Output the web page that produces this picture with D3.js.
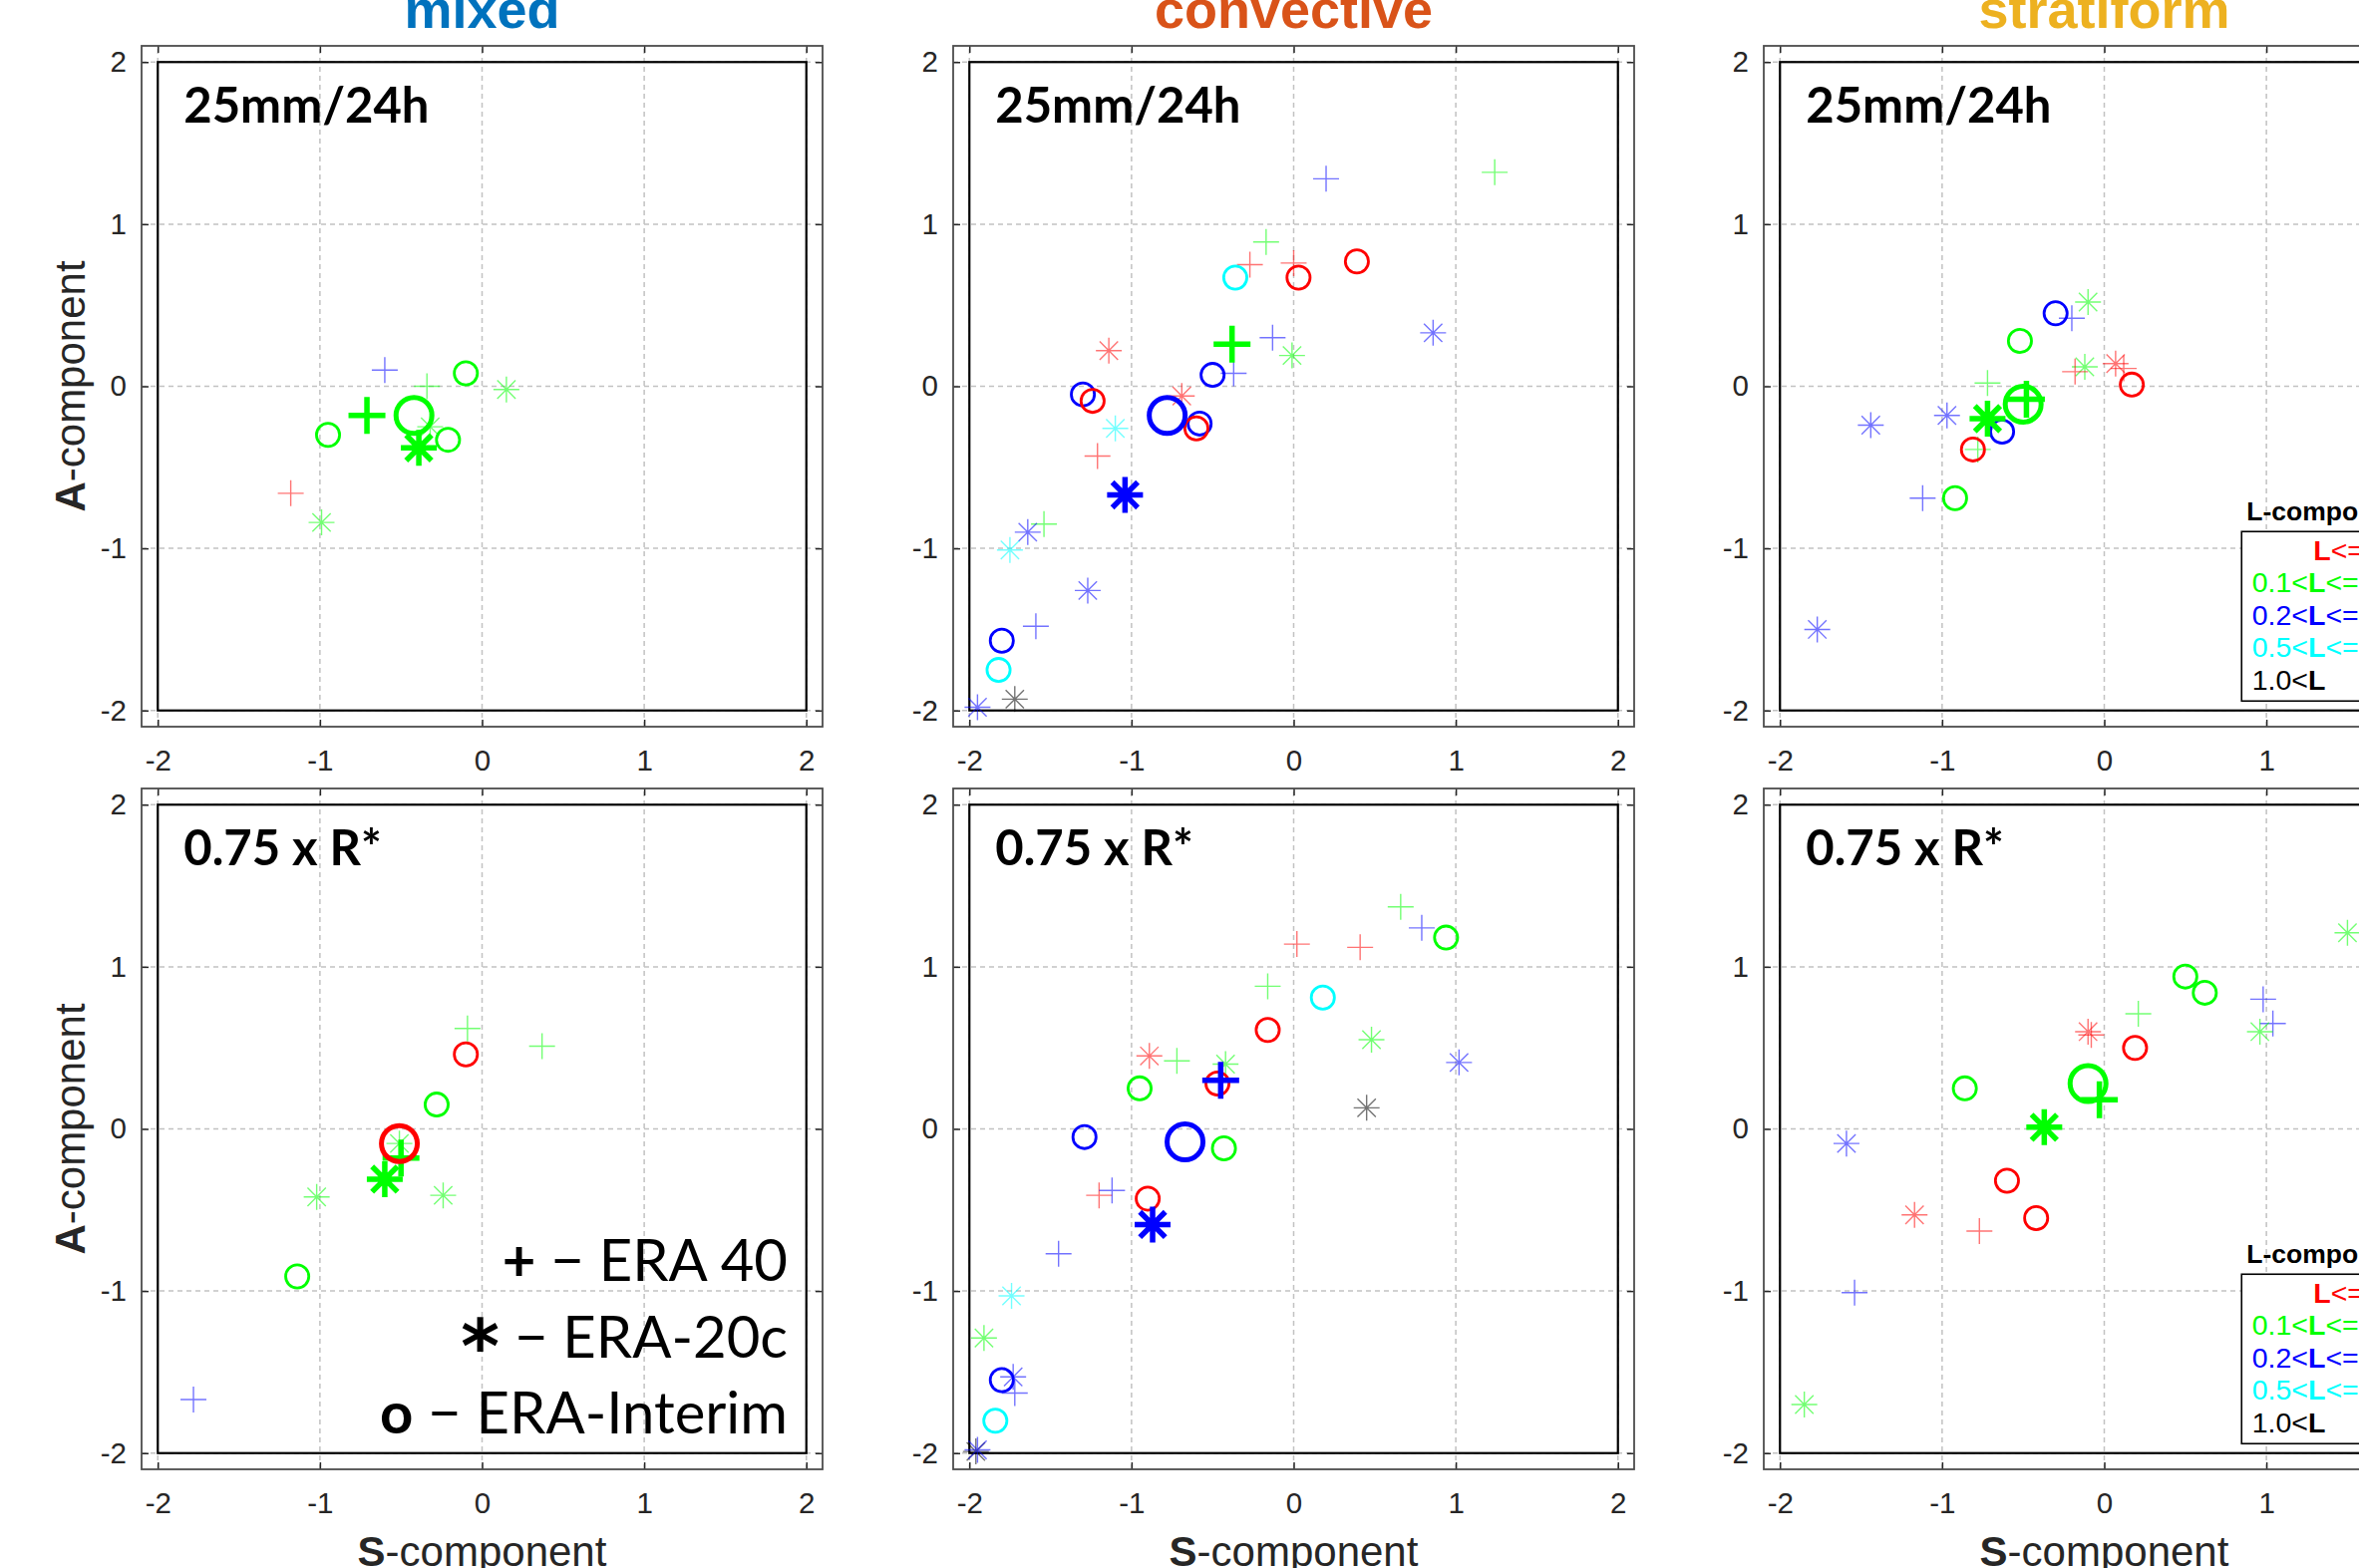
<!DOCTYPE html>
<html>
<head>
<meta charset="utf-8">
<script src="https://cdn.jsdelivr.net/npm/d3@7"></script>
<style>
    body { margin: 0; background: #fff; }
    svg { display: block; }
</style>
</head>
<body>
<div id="chart"></div>
<script>
// Panel titles and rows
const regimes = ["mixed", "convective", "stratiform"];
const regimeColors = ["#0072BD", "#D95319", "#EDB120"];
const thresholds = ["25mm/24h", "0.75 x R*"];
const ticks = [-2, -1, 0, 1, 2];

// L-component classes (index used in the point arrays)
const lColors = ["#FF0000", "#00FF00", "#0000FF", "#00FFFF", "#000000"];
const lLabels = [["", "L", "<=0.1"], ["0.1<", "L", "<=0.2"], ["0.2<", "L", "<=0.5"], ["0.5<", "L", "<=1.0"], ["1.0<", "L", ""]];

// Reanalysis symbols
const datasetMarks = ["+", "*", "o"];
const datasetNames = ["ERA 40", "ERA-20c", "ERA-Interim"];

// Points: [S, A, marker, L-class]
const mixed25 = [
    [-0.60, 0.10, "+", 2], [-0.34, 0.00, "+", 1], [0.15, -0.02, "*", 1],
    [-0.32, -0.25, "*", 1], [-1.18, -0.66, "+", 0], [-0.99, -0.84, "*", 1],
    [-0.10, 0.08, "o", 1], [-0.95, -0.30, "o", 1], [-0.21, -0.33, "o", 1]
];
const mixed25Mean = [[-0.71, -0.18, "+", 1], [-0.42, -0.18, "o", 1], [-0.39, -0.38, "*", 1]];

const conv25 = [
    [0.20, 1.28, "+", 2], [1.24, 1.32, "+", 1], [-0.17, 0.89, "+", 1], [-0.27, 0.75, "+", 0],
    [0.00, 0.76, "+", 0], [-0.13, 0.30, "+", 2], [-0.01, 0.19, "*", 1], [0.86, 0.33, "*", 2],
    [-1.14, 0.22, "*", 0], [-0.37, 0.08, "+", 2], [-0.69, -0.06, "*", 0], [-1.10, -0.26, "*", 3],
    [-1.21, -0.43, "+", 0], [-1.54, -0.85, "+", 1], [-1.64, -0.90, "*", 2], [-1.75, -1.01, "*", 3],
    [-1.27, -1.26, "*", 2], [-1.59, -1.48, "+", 2], [-1.72, -1.93, "*", 4], [-1.95, -1.98, "*", 2],
    [-0.36, 0.67, "o", 3], [0.03, 0.67, "o", 0], [0.39, 0.77, "o", 0], [-0.50, 0.07, "o", 2],
    [-1.30, -0.05, "o", 2], [-1.24, -0.09, "o", 0], [-0.58, -0.23, "o", 2], [-0.60, -0.26, "o", 0],
    [-1.80, -1.57, "o", 2], [-1.82, -1.75, "o", 3]
];
const conv25Mean = [[-0.38, 0.26, "+", 1], [-0.78, -0.18, "o", 2], [-1.04, -0.67, "*", 2]];

const strat25 = [
    [-0.10, 0.52, "*", 1], [-0.20, 0.42, "+", 2], [-0.12, 0.12, "*", 1], [-0.18, 0.09, "+", 0],
    [0.07, 0.14, "*", 0], [0.12, 0.11, "+", 0], [-0.72, 0.02, "+", 1], [-0.97, -0.18, "*", 2],
    [-1.44, -0.24, "*", 2], [-1.12, -0.69, "+", 2], [-1.77, -1.50, "*", 2],
    [-0.30, 0.45, "o", 2], [-0.52, 0.28, "o", 1], [0.17, 0.01, "o", 0], [-0.63, -0.28, "o", 2],
    [-0.81, -0.39, "o", 0], [-0.92, -0.69, "o", 1], [-0.78, -0.39, "+", 1]
];
const strat25Mean = [[-0.50, -0.11, "o", 1], [-0.48, -0.08, "+", 1], [-0.72, -0.20, "*", 1]];

const mixedR = [
    [-0.09, 0.62, "+", 1], [0.37, 0.51, "+", 1], [-0.51, -0.09, "*", 1], [-1.02, -0.42, "*", 1],
    [-0.24, -0.41, "*", 1], [-1.78, -1.67, "+", 2],
    [-0.10, 0.46, "o", 0], [-0.28, 0.15, "o", 1], [-1.14, -0.91, "o", 1]
];
const mixedRMean = [[-0.51, -0.09, "o", 0], [-0.50, -0.18, "+", 1], [-0.60, -0.31, "*", 1]];

const convR = [
    [0.66, 1.37, "+", 1], [0.79, 1.24, "+", 2], [0.02, 1.14, "+", 0], [0.41, 1.12, "+", 0],
    [-0.16, 0.88, "+", 1], [0.48, 0.55, "*", 1], [-0.89, 0.45, "*", 0], [-0.72, 0.42, "+", 1],
    [-0.42, 0.40, "*", 1], [1.02, 0.41, "*", 2], [0.45, 0.13, "*", 4], [-1.20, -0.41, "+", 0],
    [-1.12, -0.38, "+", 2], [-1.45, -0.77, "+", 2], [-1.74, -1.03, "*", 3], [-1.91, -1.29, "*", 1],
    [-1.73, -1.53, "*", 2], [-1.72, -1.63, "+", 2], [-1.96, -1.99, "*", 4], [-1.95, -1.98, "*", 2],
    [0.94, 1.18, "o", 1], [0.18, 0.81, "o", 3], [-0.16, 0.61, "o", 0], [-0.47, 0.28, "o", 0],
    [-0.95, 0.25, "o", 1], [-1.29, -0.05, "o", 2], [-0.43, -0.12, "o", 1], [-0.90, -0.43, "o", 0],
    [-1.80, -1.55, "o", 2], [-1.84, -1.80, "o", 3]
];
const convRMean = [[-0.67, -0.08, "o", 2], [-0.45, 0.30, "+", 2], [-0.87, -0.59, "*", 2]];

const stratR = [
    [1.50, 1.21, "*", 1], [0.98, 0.80, "+", 2], [0.21, 0.71, "+", 1], [1.04, 0.65, "+", 2],
    [0.96, 0.60, "*", 1], [-0.10, 0.60, "*", 0], [-0.08, 0.58, "+", 0], [-1.59, -0.09, "*", 2],
    [-1.17, -0.53, "*", 0], [-0.77, -0.63, "+", 0], [-1.54, -1.01, "+", 2], [-1.85, -1.70, "*", 1],
    [0.50, 0.94, "o", 1], [0.62, 0.84, "o", 1], [0.19, 0.50, "o", 0], [-0.86, 0.25, "o", 1],
    [-0.60, -0.32, "o", 0], [-0.42, -0.55, "o", 0]
];
const stratRMean = [[-0.10, 0.28, "o", 1], [-0.03, 0.18, "+", 1], [-0.37, 0.01, "*", 1]];

const panels = [
    { row: 0, col: 0, pts: mixed25, mean: mixed25Mean },
    { row: 0, col: 1, pts: conv25, mean: conv25Mean },
    { row: 0, col: 2, pts: strat25, mean: strat25Mean },
    { row: 1, col: 0, pts: mixedR, mean: mixedRMean },
    { row: 1, col: 1, pts: convR, mean: convRMean },
    { row: 1, col: 2, pts: stratR, mean: stratRMean }
];

// Layout
const width = 2366, height = 1573;
const colLeft = [142, 956, 1769];
const rowTop = [46, 791];
const boxSize = 683;
const sansFont = '"Liberation Sans", Arial, sans-serif';
const labelFont = 'Lato, Carlito, Calibri, sans-serif';

const svg = d3.select("#chart").append("svg")
    .attr("width", width)
    .attr("height", height);

// Path for + and * markers
function markerPath(type, cx, cy, r) {
    let d = `M${cx - r},${cy}h${2 * r}M${cx},${cy - r}v${2 * r}`;
    if (type === "*") {
        const k = r * Math.SQRT1_2;
        d += `M${cx - k},${cy - k}l${2 * k},${2 * k}M${cx - k},${cy + k}l${2 * k},${-2 * k}`;
    }
    return d;
}

function drawMarkers(g, data, x, y, big) {
    const lines = data.filter(d => d[2] !== "o");
    const rings = data.filter(d => d[2] === "o");
    const r = big ? 18.5 : 13;
    g.selectAll(null).data(lines).join("path")
        .attr("d", d => markerPath(d[2], x(d[0]), y(d[1]), d[2] === "*" && big ? 18 : r))
        .attr("fill", "none")
        .attr("stroke", d => lColors[d[3]])
        .attr("stroke-width", big ? 5.5 : 1.4)
        .attr("opacity", big ? 1 : 0.55);
    g.selectAll(null).data(rings).join("circle")
        .attr("cx", d => x(d[0]))
        .attr("cy", d => y(d[1]))
        .attr("r", big ? 18 : 11.6)
        .attr("fill", "none")
        .attr("stroke", d => lColors[d[3]])
        .attr("stroke-width", big ? 5 : 2.8);
}

panels.forEach(p => {
    const left = colLeft[p.col], top = rowTop[p.row];
    const x = d3.scaleLinear([-2.1, 2.1], [left, left + boxSize]);
    const y = d3.scaleLinear([-2.1, 2.1], [top + boxSize, top]);
    const g = svg.append("g");

    // Dashed grid
    g.selectAll(null).data(ticks).join("line")
        .attr("x1", d => x(d)).attr("x2", d => x(d))
        .attr("y1", y(-2.1)).attr("y2", y(2.1))
        .attr("stroke", "#c2c2c2").attr("stroke-width", 1.5).attr("stroke-dasharray", "5,4");
    g.selectAll(null).data(ticks).join("line")
        .attr("y1", d => y(d)).attr("y2", d => y(d))
        .attr("x1", x(-2.1)).attr("x2", x(2.1))
        .attr("stroke", "#c2c2c2").attr("stroke-width", 1.5).attr("stroke-dasharray", "5,4");

    // Axes with inward ticks on all sides
    const fmt = d => String(d);
    g.append("g").attr("transform", `translate(0,${y(-2.1)})`).attr("color", "#262626")
        .call(d3.axisBottom(x).tickValues(ticks).tickSizeInner(-7).tickSizeOuter(0).tickPadding(23).tickFormat(fmt))
        .call(a => a.select(".domain").remove());
    g.append("g").attr("transform", `translate(0,${y(2.1)})`).attr("color", "#262626")
        .call(d3.axisTop(x).tickValues(ticks).tickSizeInner(-7).tickSizeOuter(0).tickFormat(""))
        .call(a => a.select(".domain").remove());
    g.append("g").attr("transform", `translate(${x(-2.1)},0)`).attr("color", "#262626")
        .call(d3.axisLeft(y).tickValues(ticks).tickSizeInner(-7).tickSizeOuter(0).tickPadding(15).tickFormat(fmt))
        .call(a => a.select(".domain").remove());
    g.append("g").attr("transform", `translate(${x(2.1)},0)`).attr("color", "#262626")
        .call(d3.axisRight(y).tickValues(ticks).tickSizeInner(-7).tickSizeOuter(0).tickFormat(""))
        .call(a => a.select(".domain").remove());
    g.selectAll(".tick line").attr("stroke-width", 1.5);
    g.selectAll(".tick text")
        .style("font-family", sansFont)
        .style("font-size", "29.5px")
        .style("fill", "#262626");

    // Outer axes box and the inner black square
    g.append("rect")
        .attr("x", x(-2.1)).attr("y", y(2.1))
        .attr("width", x(2.1) - x(-2.1)).attr("height", y(-2.1) - y(2.1))
        .attr("fill", "none").attr("stroke", "#4d4d4d").attr("stroke-width", 1.8);
    g.append("rect")
        .attr("x", x(-2)).attr("y", y(2))
        .attr("width", x(2) - x(-2)).attr("height", y(-2) - y(2))
        .attr("fill", "none").attr("stroke", "#000").attr("stroke-width", 2.2);

    // Panel label
    g.append("text")
        .attr("x", x(-2) + 26).attr("y", y(2) + 61)
        .attr("font-family", labelFont).attr("font-weight", "bold").attr("font-size", 49)
        .text(thresholds[p.row]);

    // Markers: individual members first, then the large ones
    drawMarkers(g, p.pts, x, y, false);
    drawMarkers(g, p.mean, x, y, true);

    // Column title
    if (p.row === 0) {
        svg.append("text")
            .attr("x", x(0)).attr("y", 28)
            .attr("text-anchor", "middle")
            .attr("font-family", sansFont).attr("font-weight", "bold").attr("font-size", 54)
            .attr("fill", regimeColors[p.col])
            .text(regimes[p.col]);
    }

    // Y label on the first column
    if (p.col === 0) {
        const t = svg.append("text")
            .attr("transform", `translate(85,${y(0)}) rotate(-90)`)
            .attr("text-anchor", "middle")
            .attr("font-family", sansFont).attr("font-size", 42).attr("fill", "#262626");
        t.append("tspan").attr("font-weight", "bold").text("A");
        t.append("tspan").text("-component");
    }

    // X label on the bottom row
    if (p.row === 1) {
        const t = svg.append("text")
            .attr("x", x(0)).attr("y", 1571)
            .attr("text-anchor", "middle")
            .attr("font-family", sansFont).attr("font-size", 42).attr("fill", "#262626");
        t.append("tspan").attr("font-weight", "bold").text("S");
        t.append("tspan").text("-component");
    }

    // Reanalysis legend (bottom left panel)
    if (p.row === 1 && p.col === 0) {
        const offsets = [477.6, 554.6, 630.6];
        datasetNames.forEach((name, i) => {
            const t = g.append("text")
                .attr("x", 790).attr("y", y(2) + offsets[i])
                .attr("text-anchor", "end")
                .attr("font-family", labelFont).attr("font-size", 58);
            if (datasetMarks[i] === "*") {
                t.append("tspan").attr("font-family", '"DejaVu Sans", sans-serif')
                    .attr("font-weight", "bold").attr("font-size", 74).attr("dy", 15).text("*");
                t.append("tspan").attr("dy", -15).text(" \u2212 " + name);
            } else {
                t.append("tspan").attr("font-weight", "bold").text(datasetMarks[i]);
                t.append("tspan").text(" \u2212 " + name);
            }
        });
    }

    // L-component legend (third column)
    if (p.col === 2) {
        const lx = x(-2);
        g.append("text")
            .attr("x", lx + 468).attr("y", y(2) + 459.5)
            .attr("font-family", sansFont).attr("font-weight", "bold").attr("font-size", 26.5)
            .text("L-component");
        g.append("rect")
            .attr("x", lx + 463).attr("y", y(2) + 471)
            .attr("width", 220).attr("height", 170)
            .attr("fill", "#fff").attr("stroke", "#000").attr("stroke-width", 1.6);
        const rowOffsets = [499.5, 532, 565, 596.5, 629.5];
        lLabels.forEach((lab, i) => {
            const t = g.append("text")
                .attr("x", lx + (i === 0 ? 535 : 473.5)).attr("y", y(2) + rowOffsets[i])
                .attr("font-family", sansFont).attr("font-size", 28.5)
                .attr("fill", lColors[i]);
            t.append("tspan").text(lab[0]);
            t.append("tspan").attr("font-weight", "bold").text(lab[1]);
            t.append("tspan").text(lab[2]);
        });
    }
});
</script>
</body>
</html>
